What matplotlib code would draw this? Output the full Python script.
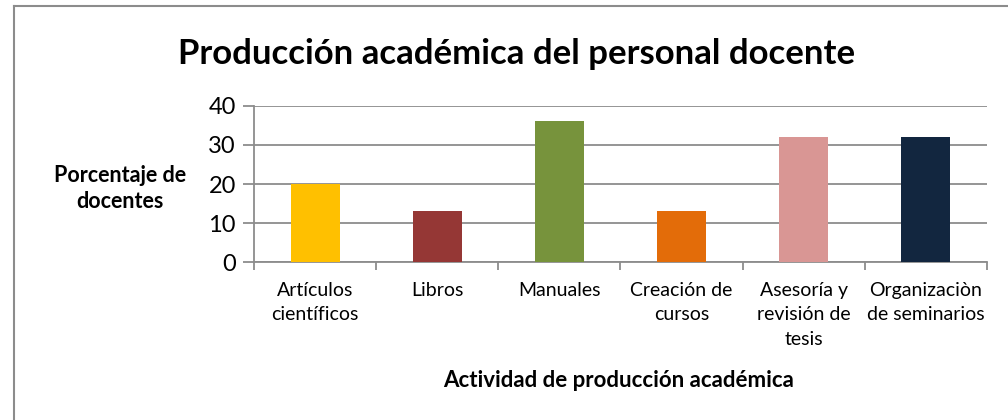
import matplotlib
matplotlib.use("Agg")
import matplotlib.pyplot as plt
from matplotlib.lines import Line2D

categories = ["Artículos\ncientíficos", "Libros", "Manuales", "Creación de\ncursos",
              "Asesoría y\nrevisión de\ntesis", "Organizaciòn\nde seminarios"]
values = [20, 13, 36, 13, 32, 32]
colors = ["#FFC000", "#953735", "#77933C", "#E36C09", "#D99694", "#12263F"]
yticks = [0, 10, 20, 30, 40]

plt.rcParams['font.family'] = ['Lato', 'DejaVu Sans']

fig = plt.figure(figsize=(10.08, 4.2), dpi=100)
ax = fig.add_axes([0.252, 0.3755, 0.727, 0.3725])

x = list(range(len(categories)))
ax.bar(x, values, width=0.4, color=colors, zorder=3)
ax.set_xlim(-0.5, len(categories) - 0.5)
ax.set_ylim(0, 40)
ax.set_yticks(yticks)
ax.set_yticklabels([str(t) for t in yticks], fontsize=17)
ax.yaxis.grid(True, color="#8C8C8C", linewidth=1.3, zorder=0)
ax.set_axisbelow(True)

ax.set_xticks([i - 0.5 for i in range(len(categories) + 1)])
ax.set_xticklabels([])
ax.set_xticks(x, minor=True)
ax.set_xticklabels(categories, minor=True, fontsize=14, linespacing=1.55)
ax.tick_params(axis="x", which="minor", length=0, pad=14)
ax.tick_params(axis="x", which="major", length=6, color="#8C8C8C", width=1.3)
ax.tick_params(axis="y", length=8, color="#8C8C8C", width=1.3, pad=5)

for s in ["top", "right"]:
    ax.spines[s].set_visible(False)
for s in ["left", "bottom"]:
    ax.spines[s].set_color("#8C8C8C")
    ax.spines[s].set_linewidth(1.3)

fig.text(0.512, 0.872, "Producción académica del personal docente", ha="center", va="center",
         fontsize=25, fontweight="bold")
fig.text(0.119, 0.552, "Porcentaje de\ndocentes", ha="center", va="center",
         fontsize=15.5, fontweight="bold", linespacing=1.3)
fig.text(0.614, 0.095, "Actividad de producción académica", ha="center", va="center",
         fontsize=16, fontweight="bold")

# chart frame
fig.add_artist(Line2D([14/1008, 14/1008], [0, 1 - 6/420], transform=fig.transFigure,
                      color="#8C8C8C", linewidth=1.5))
fig.add_artist(Line2D([14/1008, 1], [1 - 6/420, 1 - 6/420], transform=fig.transFigure,
                      color="#8C8C8C", linewidth=1.5))

fig.savefig("out.png", dpi=100)
